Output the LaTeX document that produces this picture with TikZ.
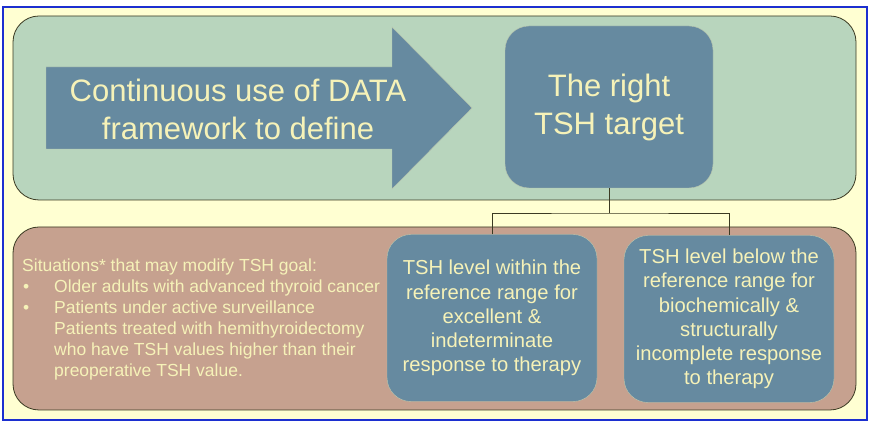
\documentclass[tikz,border=0pt]{standalone}
\usepackage{fontspec}
\setmainfont{Liberation Sans}
\definecolor{pagebg}{HTML}{FFFFD2}
\definecolor{frameblue}{HTML}{1C2FD0}
\definecolor{sage}{HTML}{B8D5BD}
\definecolor{clay}{HTML}{C6A18F}
\definecolor{slate}{HTML}{668AA0}
\definecolor{cream}{HTML}{F6F2B8}
\definecolor{rim}{HTML}{3B3A22}
\begin{document}
\begin{tikzpicture}[x=1pt,y=-1pt,
  panel/.style={draw=rim,thick,rounded corners=26pt},
  tshbox/.style={draw=cream!60!slate,fill=slate,rounded corners=24pt,text=cream,align=center,inner sep=0pt},
  link/.style={draw=rim,thick}]
\useasboundingbox (0,0) rectangle (871,427);
\fill[white] (0,0) rectangle (871,427);
\draw[frameblue,fill=pagebg,line width=1.2pt] (3,7) rectangle (867,420);
% top panel
\path[panel,fill=sage] (13,16) rectangle (856,200);
\filldraw[fill=slate,draw=cream!60!slate,thin] (46,67) -- (392,67) -- (392,27) -- (472,108) -- (392,189) -- (392,149) -- (46,149) -- cycle;
\node[text=cream,align=center,font=\fontsize{31}{38}\selectfont] (data) at (238,109)
  {Continuous use of DATA\\framework to define};
\node[tshbox,minimum width=208pt,minimum height=162pt,font=\fontsize{31}{38}\selectfont] (target) at (609,107)
  {The right\\TSH target};
% bottom panel
\path[panel,fill=clay] (13,227) rectangle (856,410);
\node[text=cream,anchor=north west,align=left,inner sep=0pt,font=\fontsize{17.5}{21}\selectfont] (situations) at (22,259)
  {Situations* that may modify TSH goal:\\
   \makebox[32pt][l]{\hspace*{1pt}\textbullet}Older adults with advanced thyroid cancer\\
   \makebox[32pt][l]{\hspace*{1pt}\textbullet}Patients under active surveillance\\
   \hspace*{32pt}Patients treated with hemithyroidectomy\\
   \hspace*{32pt}who have TSH values higher than their\\
   \hspace*{32pt}preoperative TSH value.};
\node[tshbox,minimum width=210pt,minimum height=167pt,font=\fontsize{20.2}{24.2}\selectfont] (within) at (492,318)
  {TSH level within the\\reference range for\\excellent \&\\indeterminate\\response to therapy};
\node[tshbox,minimum width=210pt,minimum height=167pt,font=\fontsize{20.2}{24.2}\selectfont] (below) at (729,319)
  {TSH level below the\\reference range for\\biochemically \&\\structurally\\incomplete response\\to therapy};
% connectors
\coordinate (split) at (609,213);
\draw[link] (target.south) -- (split);
\draw[link] (within.north) |- (split) -| (below.north);
\end{tikzpicture}
\end{document}
